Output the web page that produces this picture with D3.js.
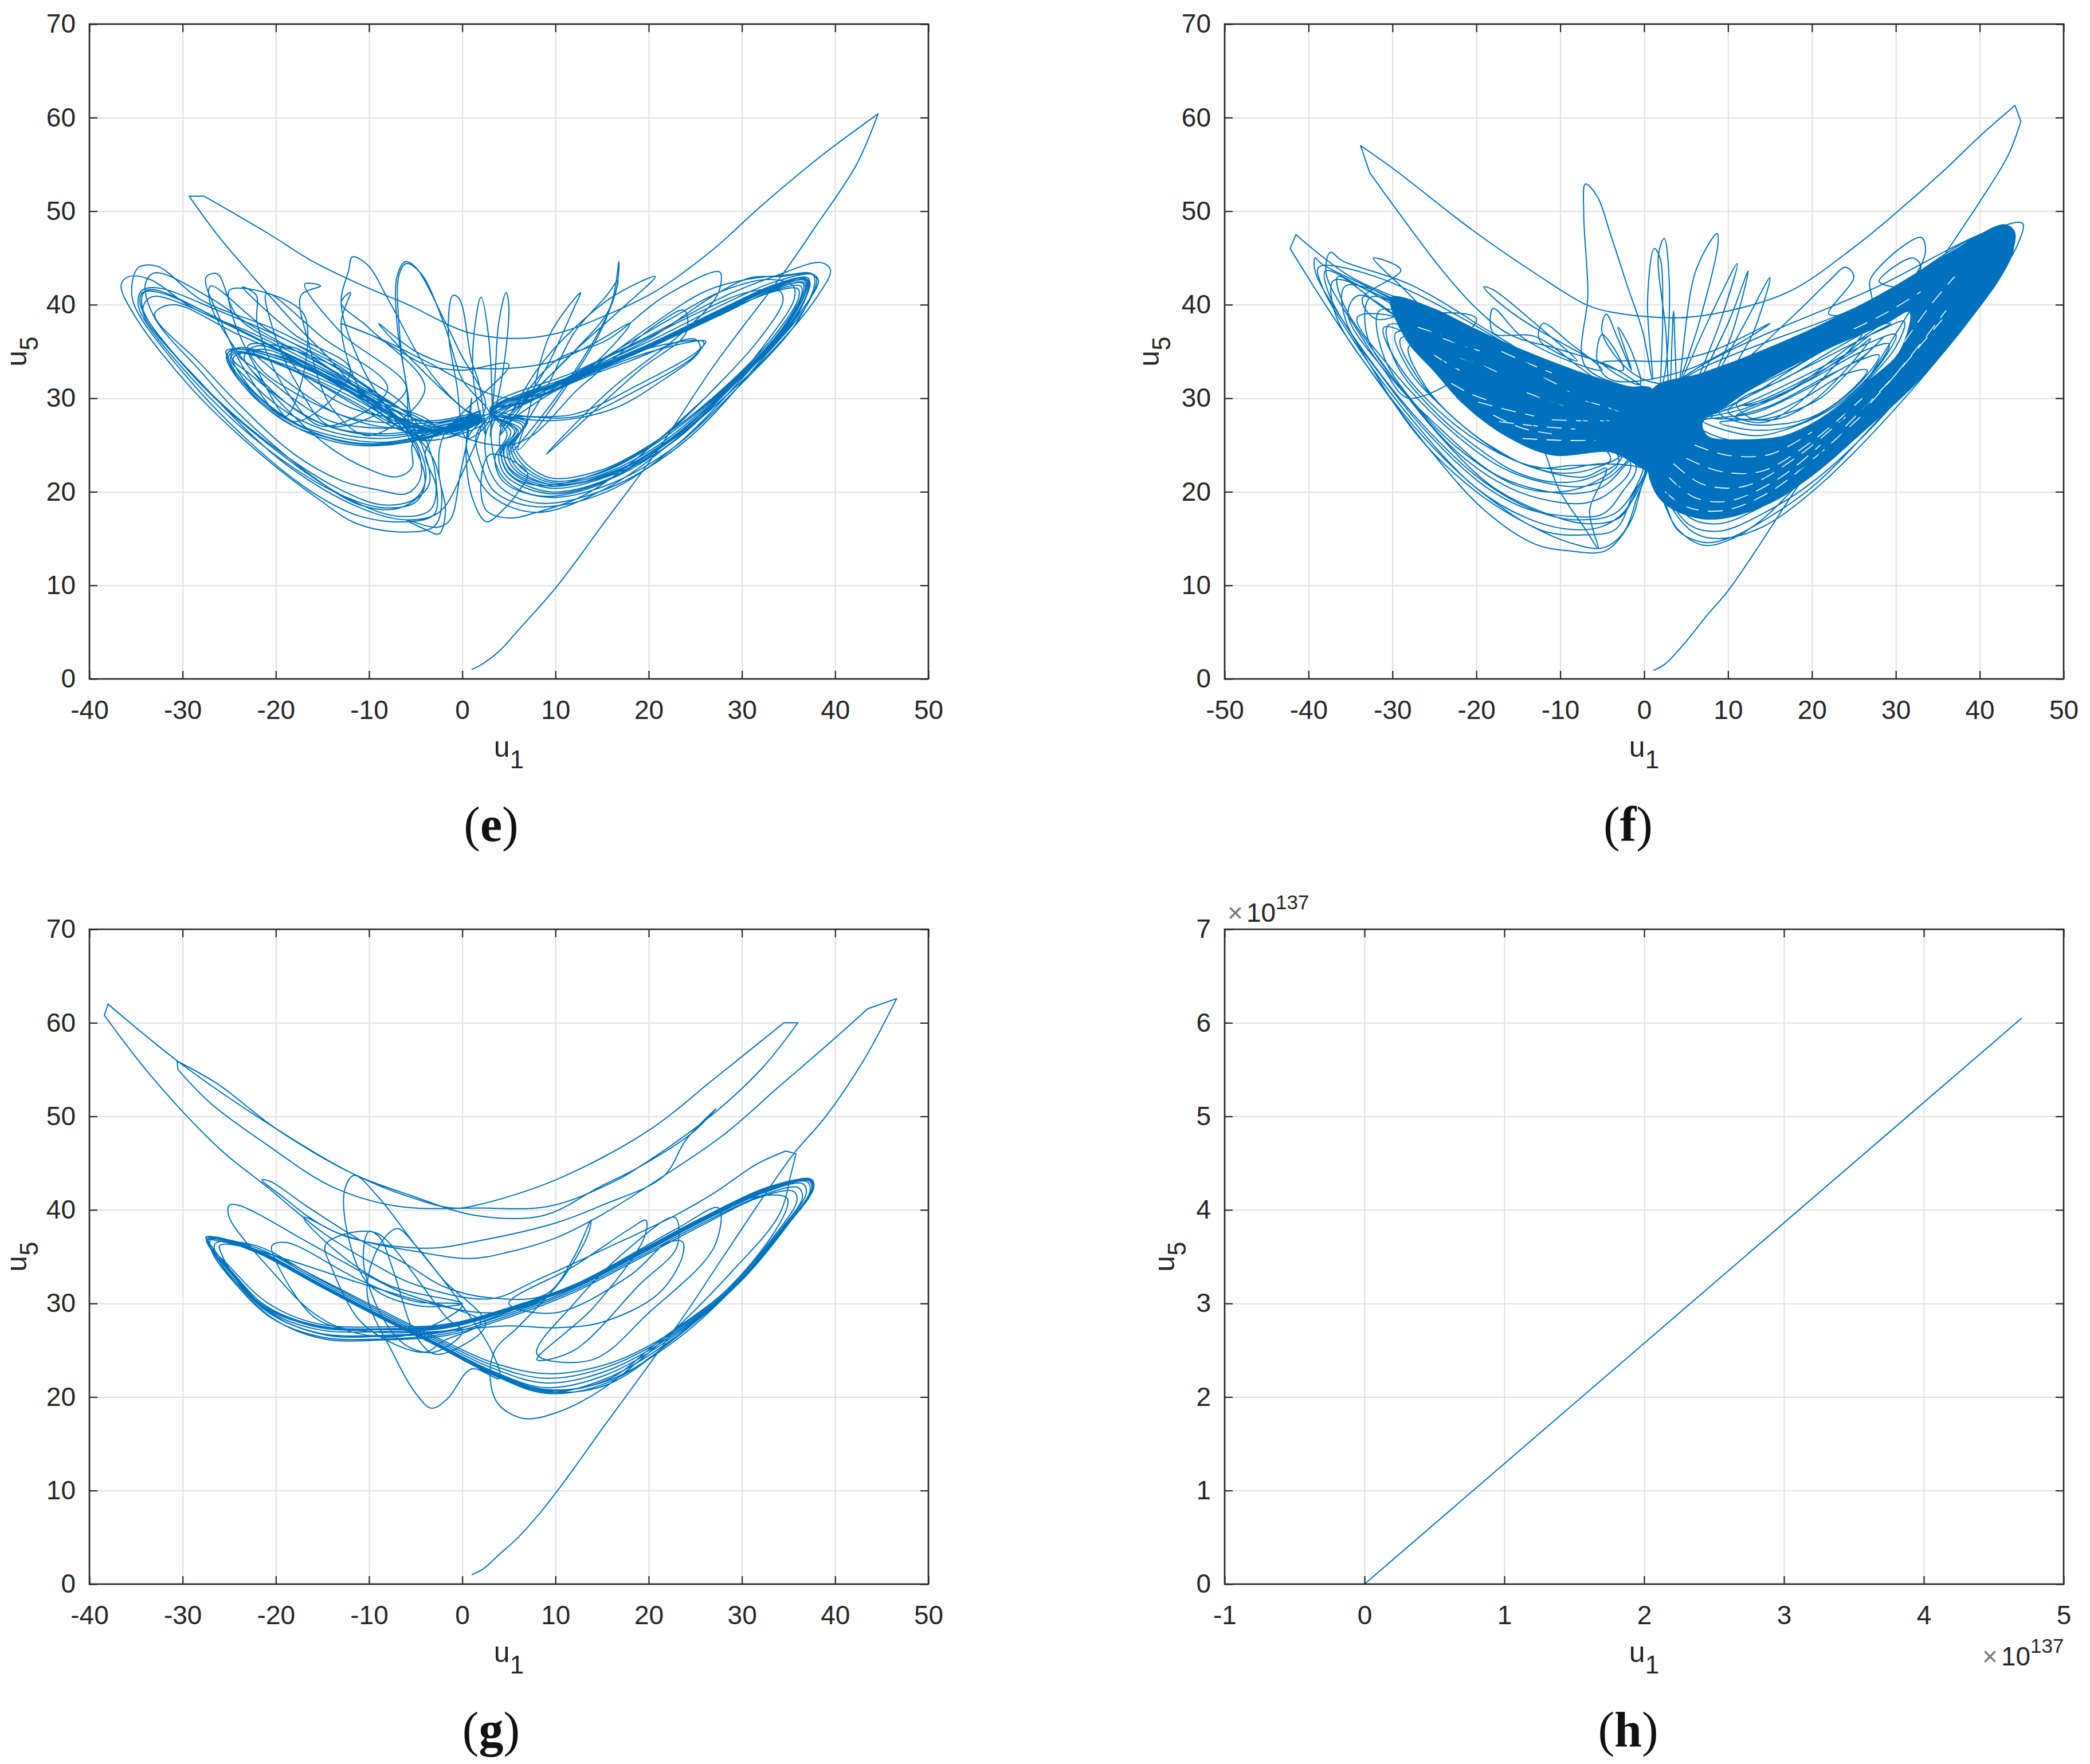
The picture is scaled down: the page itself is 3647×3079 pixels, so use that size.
<!DOCTYPE html>
<html>
<head>
<meta charset="utf-8">
<script src="https://cdnjs.cloudflare.com/ajax/libs/d3/7.8.5/d3.min.js"></script>
<style>
body { margin: 0; background: #fff; }
text { font-family: "Liberation Sans", sans-serif; fill: #262626; }
.cap { font-family: "Liberation Serif", serif; font-size: 86px; fill: #111; }
</style>
</head>
<body>
<script>
"use strict";

// tick labels
const ticksA = [-40, -30, -20, -10, 0, 10, 20, 30, 40, 50];
const ticksB = [-50, -40, -30, -20, -10, 0, 10, 20, 30, 40, 50];
const ticksH = [-1, 0, 1, 2, 3, 4, 5];
const ticksY = [0, 10, 20, 30, 40, 50, 60, 70];
const ticksYH = [0, 1, 2, 3, 4, 5, 6, 7];

// (h) values are in units of 1e137
const traceH = [[0, 0], [4.7, 6.05]];

// (g), u1,u5 pairs
// a point written twice keeps the sharp corner the picture has there
const traceG = [
[1,1],[2.2,1.6],[4,3.2],[6,5],[8,7.2],[10,9.7],[12,12.4],[15,16.6],[20,23.4],[24,29],[28,35],[35.4,45.8],[39,50],[43,55.9],[46.6,62.6],[46.6,62.6],[43.5,61.5],[43.5,61.5],[39,57.5],[34,53.2],[28,48],[21.4,43.5],[15,39.5],[10,37],[5,35.5],[0.8,34.8],[-5.8,35.7],[-10,36.5],[-14,37.8],[-16.7,39.4],[-19,41.2],[-21.5,43.2],[-20.5,43],[-16.7,40.4],[-11,36.8],[-6,34.2],[-2,31.8],[3,30.6],[9,31],[12,35],[13.8,38.9],[13.5,37.4],[10.7,32.6],[6,27.5],[3.5,25],
[3,21.9],[3.9,19.2],[6.6,17.7],[10,18.3],[14.8,20.7],[22,26.5],[29,33.5],[34,39.5],[35.3,44],[35.8,46],[35.8,46],[34.7,46.3],[34.7,46.3],[31.6,44.9],[27,41.8],[23,39.5],[14.8,35.6],[8,32.5],[3,30.5],[-5,32],[-10,34.5],[-15,37.6],[-21,42.5],[-26,46.5],[-33.2,54.1],[-38.4,60.8],[-38.4,60.8],[-38,62],[-38,62],[-30,55.5],[-20,48.7],[-12,44],[-6,41.5],[-1,40.2],[1.5,40.5],[10,43.2],[20,48.5],[27,54],[34.5,60],[34.5,60],[36,60],[36,60],[32.3,55.3],[27.2,50.5],[19.6,45],[16.2,43],[9.4,40.4],[1.8,40.2],[-7,40.4],[-14,42.5],[-21,47],[-27,51.4],[-30.5,55],[-30.5,55],[-30.6,55.9],[-30.6,55.9],[-26.3,53.5],[-20,48.7],[-12,44],[-5.7,41.6],[1.5,39.4],[8.7,39.4],[14.8,42.5],[19,44.6],[24.5,48.1],[27.2,50.8],[27.2,50.8],[24,47.5],[21.6,43.6],[15,40.5],[10,38.6],[1.8,36.7],[-3.7,35.9],[-12,37],[-17,39.2],[-14,36],[-8,32],[0,30],
[-5,29.8],[-10,32],[-12.3,37.4],[-12.6,42.2],[-11.6,43.7],[-9.2,41.6],[-5,36.2],[-0.3,30.2],[3.2,24.8],[4,22],[1,23],[-1.6,19.8],[-3.3,18.8],[-5,20.4],[-7.5,24.8],[-10.2,31],[-9,36],[-7,38],[-5,36.2],[-2,32.5],[2.5,27.8],[0,25.5],[-3,24.6],[-5,26.6],[-7.5,33.8],[-8.8,37],[-10,37.7],[-10.6,34.4],[-8.5,28.4],[-6,25.5],[-3,24.8],[0,27],[-1.6,28.4],[-8.5,37.1],[-10,37.7],[-13,37.3],[-14.7,36.2],[-14,33.8],[-11.2,28.4],[-8,26],[-4,24.8],[-2,26],[2,28],[-7,31.4],[-15.4,35.9],[-24,40.5],[-25,40.5],[-25,39.2],[-20.2,33.2],[-16,29],[-12,27],[-6,26.6],[0,29.8],[-5,30.2],[-11.2,32.6],[-18.8,36.5],[-20.4,36.2],[-20.2,35],[-15.7,28.4],[-10,27],[-3,27],[5,27.6],[10,27.4],[15,28],[21,31],[23.6,35],[23.6,36.6],[22,36.5],[18,33],[10,29],[5,30],[12,34],[18,38],[19.7,38.9],[19.5,37],[14,29.5],[8,24],[12,25],[19,32],[23,36],[22.8,39.2],[18,36],[12,30],[8,24.6],[14,24],[20,29],[27,36],[27.5,40.2],[23,38],[12,32],[3,29],
[-27.4,36.8],[-25,34],[-20.8,30],[-15.4,27.8],[-8.5,27.5],[-1.6,27.8],[5.2,29.6],[12,32],[19,35.6],[25.8,39.2],[33,42.5],[37.3,43.2],[37.6,42.2],[35,38.5],[30,32.5],[23,26.5],[15.5,22],[9,20.5],[3.2,22.5],[-3,25.7],[-8.5,28.4],[-15.4,32],[-22.2,35.6],[-27.4,37.1],
[-27.2,36.2],[-25,33.4],[-20.8,29.2],[-15.4,27.2],[-8.5,27],[-1.6,27.4],[5.2,29.3],[12,31.8],[19,35.4],[25.8,39],[33,42.2],[37,43],[37.3,42],[34.6,38.2],[29.6,32.2],[22.7,26.5],[15.5,22.4],[9,21],[3.2,22.8],[-3,25.9],[-8.5,28.6],[-15.4,32.2],[-22.2,35.8],[-27.2,37],
[-26.9,35.8],[-24.8,32.9],[-20.6,28.9],[-15.2,26.8],[-8.5,26.6],[-1.6,27.1],[5.2,29],[12,31.6],[19,35.2],[25.8,38.8],[32.5,41.9],[36.5,42.8],[36.9,41.8],[34.3,38],[29.3,32],[22.4,26.5],[15.5,22.8],[9,21.5],[3.2,23.1],[-3,26.1],[-8.5,28.8],[-15.4,32.4],[-22.2,36],[-27,36.8],
[-26.8,35.4],[-24.6,32.4],[-20.4,28.4],[-15,26.4],[-8.5,26.2],[-1.6,26.8],[5.2,28.8],[12,31.4],[19,35],[25.8,38.6],[32,41.5],[36,42.4],[36.5,41.4],[34,37.7],[29,31.8],[22.1,26.5],[15.5,23.2],[9,22],[3.2,23.4],[-3,26.3],[-8.5,29],[-15.4,32.6],[-22.2,36.2],[-26.5,36.4],
[-26.3,35],[-24.2,32],[-20,28.2],[-14.8,26.2],[-8.5,26.1],[-1.6,26.6],[5.2,28.6],[12,31.2],[19,34.8],[25.8,38.4],[31.5,41.2],[35.5,42],[35.9,41],[33.6,37.4],[28.6,31.6],[21.8,26.5],[15.5,23.5],[9,22.5],[3.2,23.7],[-3,26.5],[-8.5,29.2],[-15.4,32.7],[-21,35.4],[-26,36.2],
[-25.7,35],[-23.5,31.6],[-20,28.6],[-14.5,26.6],[-8.5,26.5],[-1.6,27],[5.2,29.2],[12,31.9],[19,35.5],[25.8,39.1],[32,41.5],[34.8,41.3],[34.9,40.5],[33.2,37.2],[28.2,31.3],[21.5,26.3],[15.5,21.8],[9,20.7],[3.2,22.6],[-3,25.8],[-8.5,28.5],[-15.4,32.1],[-22.2,35.7],[-27.2,37],
[-27.4,36.6],[-25.2,33.8],[-21,29.7],[-15.4,27.6],[-8.5,27.3],[-1.6,27.7],[5.2,29.5],[12,32],[19,35.6],[25.8,39.2],[33,42.4],[37.4,43.3],[37.7,42.4],[35.2,38.8],[30,32.7],[23,26.4],[15.5,21.5],[9,20.4],[3.2,22.4],[-3,25.6],[-8.5,28.3],[-15.4,31.9],[-22.2,35.5],[-27.5,37.1],[-27.1,36.4],[-24.8,33.5],[-20.8,29.5],[-15.2,27.4],[-8.5,27.2],[-1.6,27.6],[5.2,29.4],[12,31.9],[19,35.5],[25.8,39.1],[33,42.3],[37.2,43.1],[37.5,42.3],[35,38.6],[29.8,32.6],[22.9,26.4],[15.5,21.3],[9,20.6],[3.2,22.5],[-3,25.7],[-8.5,28.4],[-15.4,32],[-22.2,35.6],[-27.2,37],
[-27.3,36.5],[-25.1,33.6],[-20.9,29.4],[-15.3,27.5],[-8.5,27.2],[-1.6,27.5],[5.2,29.4],[12,31.7],[19,35.3],[25.8,38.9],[33,42.3],[37.4,43.2],[37.6,42.5],[35.1,38.7],[30.2,32.8],[23.2,26.3],[15.5,21.7],[9,20.8],[3.2,22.7],[-3,25.8],[-8.5,28.5],[-15.4,32.1],[-22.2,35.7],[-27.3,36.9]
];

// (e)
const traceE = [
[1,1],[2,1.5],[4,3],[6,5.2],[8,7.4],[10,9.7],[12,12.3],[15,16.4],[21,24.5],[27,33.5],[34.4,43.3],[38,48.5],[42.3,55],[44.6,60.4],[44.6,60.4],[38.5,55.9],[32,50.5],[26.9,45.9],[21,41.6],[16.2,39.2],[10,36.9],[5.2,36.4],[0.4,37.1],[-5.8,40],[-10.6,42],[-16,44.6],[-20.8,47.6],[-27.7,51.6],[-27.7,51.6],[-29.3,51.6],[-29.3,51.6],[-26.3,47.5],[-22.2,42.7],[-18,38],[-15,35],[-10,30],[-4,27.5],
[-8.5,29.8],[-14,32.7],[-22.2,36.8],[-29,39.7],[-33.5,42.7],[-35.8,43],[-36.6,42.1],[-35,38.6],[-29,31],[-22.2,24.5],[-15.4,19.2],[-11.3,16.6],[-6.5,15.7],[-3,16.3],[-2.2,19],[-3,23.3],[-5,26.3],[-6,29],[-12,33],[-20,37.3],[-28,40.5],[-32.7,44.1],[-34.7,44],[-35.4,42.4],[-35.2,40],[-30,32.8],[-23,25.5],[-16,19.9],[-11,17.4],[-6,16.8],[-3,17.6],[-2.8,21],[-3.5,24.5],[-5,27.5],[-10,31],[-18,35.8],[-26,39.3],[-32.7,41.8],[-34.4,41.5],[-34.7,39.7],[-29,32.1],[-20.8,24.5],[-13.3,19.8],[-8.5,18.3],[-5,18.9],[-4,21],[-5,24.5],
[-8,28.5],[-15,32.7],[-24,37.4],[-32.5,41.3],[-34.3,41.3],[-34.5,39.9],[-28.9,32.5],[-20.5,25],[-13,20.2],[-8.5,18.6],[-5,19.3],[-3.9,21.5],[-4.8,25],[-8,28.8],[-16,33.2],[-25,37.9],[-33,41.6],[-34.1,41.4],[-34.3,39.6],[-28.7,32.2],[-20.2,24.6],[-12.5,19.4],[-7,17.4],[-3.5,18],[-2.8,20.5],[-4,24],[-3,27],[-12,30.7],[-22,36.3],[-33,40.9],[-34,40.3],[-34.2,39],[-28,31.6],[-19,23],[-11,18.3],[-6,17],[-2.5,17.8],[0,22],
[2,28],[-3,26],[-8.5,25],[-14,25.7],[-18.8,27.4],[-23.6,31.5],[-25.3,34.5],[-24.5,35.2],[-18.8,33.9],[-12,31],[-5.8,27.4],[-1,26.6],[2,27.8],
[-3,26.3],[-8.5,25.3],[-14,26],[-18.8,27.8],[-23.5,31.8],[-25.1,34.4],[-24.3,35],[-18.8,33.5],[-12,30.6],[-5.8,27.2],[-1,26.7],[2,27.9],
[-3,26.6],[-8.5,25.7],[-14,26.4],[-18.5,28.3],[-23.2,32.2],[-24.9,34.3],[-24,34.9],[-18.5,33.2],[-12,30.2],[-5.8,27],[-1,26.8],[2,28],
[-3,26.9],[-8.5,26.2],[-14,26.9],[-18,28.9],[-22.8,32.6],[-24.6,34.2],[-23.8,34.8],[-18,32.9],[-12,29.8],[-5.8,26.7],[-1,26.9],[2,28.2],
[-3,27.2],[-8.5,26.8],[-14,27.5],[-17.5,29.5],[-22,33],[-24,34.6],[-23,34.9],[-17,32.4],[-11,29],[-5.8,26.4],[-1,27],[2,28.3],
[-3,27.4],[-8.5,27.4],[-13,28.2],[-17,30.5],[-21,33.6],[-22.4,35],[-21,35.2],[-15,32.4],[-9,28.6],[-5,26],[-1,27.2],[2,28.5],
[-3,27.6],[-8,28],[-12,29],[-15.5,31],[-18.5,34],[-19.5,35.5],[-18,35.4],[-12,31.6],[-7,27.8],[-4,25.8],[-1,27.4],[2,28.7],
[-3,26.4],[-7,25.3],[-12,25.3],[-17,26.8],[-22,30],[-25,34],[-25.3,35.1],[-20,34.6],[-13,31.6],[-6,27.6],[-1,26.4],[2,27.6],
[-3,26.1],[-8,25],[-13,25.2],[-18,27],[-23,30.8],[-25.2,34.6],[-24.7,35.2],[-19,34],[-12,30.8],[-6,27.2],[-1,26.2],[2,27.5],
[-3,25.9],[-8,25.1],[-13,25.4],[-18,27.4],[-22.8,31.2],[-24.8,34.8],[-24,35.4],[-17,33.4],[-10,29.6],[-5,26.9],[-1,26.5],[2,27.7],
[-3,26.7],[-8,26],[-13,26.6],[-17,28.2],[-21,31.4],[-23.4,34.4],[-22,35.6],[-15,33],[-8,29.2],[-4,26.6],[-1,26.5],[2,28],
[-3,27],[-9,27],[-14,28.6],[-18,30.6],[-21.5,33],[-23,35.6],[-21,35.8],[-14,33.6],[-8,29.8],[-3,26.9],[2,28.2],
[-4,27.5],[-15,33.5],[-23,38],[-27,40.7],[-33,43.4],[-34,42.2],[-33,38.6],[-28,32.8],[-24,28.4],[-16,21.6],[-11,18.6],[-7,18.2],[-4.5,19.6],[-3.5,21],[-4,24],[-5,26],
[-14,32.4],[-24,36.8],[-31,40],[-33,39],[-28,33.6],[-24,29.4],[-18,24],[-13,21.2],[-9,20.2],[-6,19.8],[-4.5,21.4],[-5,25],
[-12,32.6],[-21,37.4],[-27,42],[-27,40],[-24,34.8],[-19,29],[-14,24.6],[-10,22.4],[-7,21.6],[-5.4,22.6],[-5.2,25.4],
[2,28],
[12,32.1],[20.3,35.6],[27.9,39.2],[33.4,41.8],[37,42.7],[37.2,42],[35.4,38],[29.2,31.5],[22.3,25.1],[15.5,21.6],[9.4,20.4],[5.2,22.2],[4.5,24.5],[6,26.5],[3,28.4],
[12,32.3],[20.3,35.9],[27.9,39.5],[33.4,42],[36.8,42.8],[37,42],[35,38],[28.8,31.4],[22,25.2],[15.5,21.3],[9.4,20],[5,21.9],[4.2,24.3],[5.6,26.5],[3,28.6],
[12,32],[20.3,35.5],[27.9,39],[33.4,41.6],[36.6,42.4],[36.8,41.6],[34.8,37.8],[28.6,31.2],[21.8,25.3],[15.5,21.8],[9.4,20.8],[5.6,22.4],[4.8,24.6],[6.3,26.6],[3,28.5],
[12,32.2],[20.3,35.7],[27.9,39.3],[33.4,41.9],[36.9,42.6],[37.1,41.8],[35.2,37.9],[29,31.3],[22.1,25],[15.5,21.2],[9.4,19.8],[4.8,21.6],[3.9,24],[5.2,26.4],[3,28.7],
[12,32.2],[20.3,35.7],[27.9,39.4],[33.4,41.9],[36.7,42.6],[36.9,41.7],[34.6,37.4],[28,30.6],[21,24.6],[14.5,21.4],[9.4,20.8],[5.8,22.6],[5,24.8],[6.5,27],[3,28.6],
[12,32],[20.3,35.8],[27.9,39.3],[33.4,41.7],[36.5,42.3],[36.6,41.4],[34.2,37.1],[27.6,30.4],[20.6,24.7],[14.5,21.7],[9.4,21],[6,22.9],[5.2,25],[6.7,27.2],[3,28.5],
[12,32.3],[20.3,35.6],[27.9,39.1],[33.4,41.5],[36.3,42],[36.4,41.1],[33.8,36.8],[27.2,30.2],[20.2,24.8],[14.5,21.9],[9.4,21.2],[6.2,23.2],[5.4,25.2],[6.9,27.4],[3,28.4],
[12,32.1],[20.3,35.8],[27.9,39.2],[33.4,41.4],[36,41.7],[36.1,40.8],[33.4,36.6],[26.8,30],[19.8,24.8],[14.5,22.2],[9.4,21.5],[6.4,23.5],[5.6,25.4],[7,27.6],[3,28.3],
[12,32.4],[20.3,35.9],[27.9,39.6],[33.4,42.1],[37,42.9],[37.3,42.2],[35.6,38.6],[29.4,31.8],[22.6,25.6],[15.5,21.9],[9.4,20.6],[5.2,22.4],[4.4,24.6],[5.8,26.6],[3,28.6],
[12,32.5],[20.3,36.2],[27.9,40],[33.4,42.4],[37.6,43.2],[37.8,42.2],[35.8,38],[29.6,31.2],[22.5,24.6],[15.5,20.7],[9.4,19.4],[4.5,21],[3.5,23.6],[4.8,26.2],[3,28.9],
[12,32.8],[20.3,36.8],[27.9,40.8],[33.4,43],[38.5,44.5],[39.5,43.7],[38.1,40.9],[32.7,34.5],[23,25.7],[15.5,20.4],[8,17.8],[3.2,19.5],[1.1,22.7],[0.5,25.5],[3,28.2],
[12,32.4],[20.3,36.5],[27,41],[31,42.9],[34,43],[37.5,43.3],[38.2,42.6],[36.5,39.5],[31,33.2],[23,25],[15.5,20],[8,18.4],[3.5,20],[2,23],[1.5,26],[3,28],
[10,31],[15,34],[20,37.6],[26,41.4],[30.5,42.7],[35,43.2],[37.3,43.4],[38,42.8],[37,40],[32,34],[24,25.5],[15.5,20.3],[8,18.8],[4,20.6],[2.5,24],[3,27.3],
[8,30],[14,33.6],[22,38.3],[28,41.5],[33,42.7],[35.5,42],[35.6,40.6],[33,36.5],[27.5,30],[21,24.7],[14,20.5],[8,19.6],[4.5,21.4],[3.2,24.8],[3.5,27.6],
[12,32.6],[19,36],[25,39],[30.5,41.3],[34,41.5],[34.4,40.4],[32,36.5],[27,31],[21,25.5],[14,21.8],[8,20.7],[5,22],[4,25],[4.5,27.8],
[5.2,28],[12,28.3],[19,31.5],[25.2,35],[26.1,36.1],[20.3,35],[13,32.3],[7,29.6],[3,28.8],[12,28],[19,31],[25,34.6],[25.9,36],[21,35.6],[14,33],[8,30],[3,28.7],[9,27.6],[16,28.8],[21,31.6],[25.5,35.2],[25,36.3],[18,34],[10,30.8],
[4,27],[12,35],[15.8,39.6],[16.8,44.6],[16.5,41.5],[14.8,37.4],[10,30],[5,24],[9,31],[12,37],[15.5,41],[16.7,42.6],[15,37.5],[11,31],[6,24.5],[7,28],[9.4,36.8],[12.7,41.3],[12,39.7],[8.7,32.7],[4,26],[8,33],[11,36.5],[16.2,40.9],[20.7,43],[17,39.5],[12,35],[5,28],[10,34],[15.5,36.2],[21.7,40.9],[27.6,43.5],[27.7,42],[26.9,40.3],[23,36.5],[16,31],[9,24],[19,33],[24,37],[23.8,39.4],[21,38],[13,31.5],[5,25],
[-16.7,34.5],[-24,38.6],[-26.3,43.3],[-27.5,42.9],[-26,38.5],[-23,32.5],[-19,28],[-17,39],[-24.9,41.6],[-24.7,39],[-22,33],[-18,27.5],[-12,33],[-18,36.8],[-23.6,41.9],[-22.1,41],[-22,38],[-19,31],[-15,27],[-8,31],[-15,36.5],[-21,41.2],[-20.5,38],[-18,32],[-14,27],[-6,31],[-13,37],[-16.9,42.2],[-15.2,42],[-17.3,41],[-16.5,36],[-14,29],[-10,26],[-4,31],[-10,37.5],[-13,40.2],[-12,41.3],[-13,38],[-11,31],[-7,27],
[-3.5,25.5],[-8,29],[-11.5,35],[-13,40.3],[-12.2,43.6],[-11.8,45.1],[-10.2,44.3],[-7.8,40.3],[-4,33.5],[0,29],[2.5,27.5],[-5,25.7],[-6,31.5],[-7,38],[-7,43],[-6.1,44.6],[-5,44],[-2,38.5],[-0.3,35],[2.5,29.2],[1,27],[-4.4,25.7],[-6,31.5],[-6.8,38],[-6.8,43.1],[-6,44.4],[-4.4,43.3],[-1.8,37.5],[0,32],[3,28],[0.5,25.7],[-0.6,31.5],[-1.5,37.4],[-1,41],[-0.3,40.6],[1,34],[1.8,31.5],[2.5,26],[1.2,32],[1.2,36.2],[2,40.8],[2.8,36.8],[3.2,28.6],[3,26],[3.5,32],[3.9,38],[4.7,41.3],[5,39.7],[3.9,30.4],[2.8,27.4],
[-9,38],[-5,35],[-1,33.5],[5,33.2],[10,34],[14,35.8],[18,38],[12,32],[5,30],[-4,34],[-8,36],[-13,38],[-9,36.4],[-4,33.6],[0,33],[5,33.6],
[-2,26],[-2.5,22],[-1.8,18],[-2.5,15.5],[-4,16],[-6,17],[-2.7,16.2],[-1.3,17],[-0.2,22],[0.6,26],[1,30],[0.4,24],[1.2,19],[2.6,16.8],[4.5,18.2],[6,20],[7,22],[3,24],[2,21],[2.6,18],[5,17.2],[8,17.8],[13,19.6],[18,23],[26,30]
];

// (f) solid parts of the trace, where the lines run together
const coreLeftF = [[-30.2,40.8],[-25,39.6],[-20.5,37.6],[-14.5,35.2],[-7.5,32.8],[-1.9,31.3],[1,31],[2,26],[1.5,22.5],[0.3,22.3],[-1.2,23],[-4,24.2],[-11,23.9],[-16.6,26],[-21.5,29.3],[-25,32.8],[-28.5,36.4]];
const coreRightF = [[1,31],[6.8,32.7],[13.7,35],[21.3,38],[28.9,41.5],[36.5,45.6],[40.3,47.7],[43,48.6],[44.2,47.8],[43.4,44.4],[38.8,38.3],[32.7,31.8],[27.4,27.4],[21.3,22.7],[16,19.2],[9.9,17.2],[6.1,17.2],[2.3,18.8],[0.6,21.5],[0.5,26]];
const holeRightF = [[7,27.4],[9.9,29.2],[13.7,31.5],[21.3,35],[28.9,38],[31.6,39.2],[30.4,35],[26.6,31.8],[22.1,28.4],[17.5,26.2],[11.4,25.6],[7.6,26]];

// (f) thin white slits between the lines inside the solid parts
const gapsF = [
[[-21.9,34.3],[-19,33.4],[-16.6,32.4]],[[-19.8,29.6],[-16.5,28.8],[-13.1,28.1]],[[-17.3,27.5],[-12.5,27],[-8.2,26.7]],[[-14.5,25.7],[-10,25.5],[-5.8,25.5]],[[-12,32.2],[-10.4,31.5],[-8.9,30.7]],
[[-23,31.6],[-20.5,30.4],[-18,29.6]],[[-25,34.6],[-23.6,33.8],[-22,33]],[[-14,30.6],[-11,29.6],[-8,28.6]],[[-17,35],[-14,33.8],[-11,32.7]],[[-24,36.4],[-21.5,35.6],[-19,34.9]],
[[-11,27.7],[-8,27.6],[-4,27.6]],[[-18,28.2],[-14.5,26.8],[-11,26.2]],[[-7,29.7],[-5,29.2],[-3,28.6]],[[-27,37.6],[-25.6,37.2],[-24.2,36.8]],
[[3,21.5],[6,19.4],[10,19],[16,21.4],[21,25]],[[3.5,23],[7,20.8],[12,20.6],[18,23.6],[24,28]],[[5,23.6],[9,22.2],[14,22.2],[20,25.4],[26,30]],[[2.5,20],[5,18.4],[9.5,18],[15,20],[20,23.4],[26,28.2]],
[[6,25],[10,23.9],[15,24],[20,26.4]],[[27,29.5],[31,33.6],[35.5,38.4]],[[24,27],[30,32.6],[36,39.4]],[[31,36],[34,39.8],[37,43]],[[25,37.4],[29,39.2],[33,41.4]]
];

// (f) the lines that still show one by one
const traceF = [
[1.1,0.9],[2.5,1.6],[5,4],[7.5,6.8],[9.9,9.3],[13,13.3],[17.5,19.5],[22,25.5],[28,34],[35.8,45.3],[40,51],[43.4,56],[44.9,59.6],[44.9,59.6],[44.2,61.3],[44.2,61.3],[40,58],[35.8,54.4],[30,49.8],[25.1,46.2],[17.5,41.5],[9.9,39.3],[3.8,38.6],[-3.8,39.2],[-6.9,40],[-12.9,43.3],[-20.5,48],[-29.7,54.4],[-33.8,57],[-33.8,57],[-32.7,54.1],[-32.7,54.1],[-28.9,49.4],[-24,43.6],[-20,39.6],[-16,36.8],[-10,35.2],[-4,33.4],[0,31],
[-7,33.4],[-6.7,41.3],[-7.2,49.7],[-7,52.9],[-5.6,51.6],[-4,47.5],[-2,42],[-0.2,37.2],[1,32],[0.4,40.2],[1.2,46],[1.9,45],[2.2,38],[2,31],[2.6,33.4],[3,42.3],[2.4,47.1],[1.7,45.3],[2.6,37],[3,30],[3.5,39.3],[3.7,35],[4,31],[6.1,43.5],[8.7,47.6],[8.8,46.5],[6.5,37.9],[4.4,32],[8,39],[11.1,44.4],[9,38],[6,31],[10,38],[12.4,43.6],[10.5,37],[8,31.5],[12,38],[15,42.9],[13,37],[11,33.5],[18,39],[22,42.5],[24,44],[25,43],[22,39],[27,40],[27,42.8],[33,47.2],[33.5,45.5],[31,42],[28,42.5],[32,45],[33,44],[29,41],
[15,33],[0,32],[-5,37],[-4.5,39],[-3.2,36.5],[-1.5,33],[-3.1,37.6],[-1.5,35],[-0.5,31.5],[-5,33.8],[-3,34],[3,34],[8,35],[15,38],[5,33],[-4,32],[-5.6,34],[-5,36.8],[-2.5,33],
[-12,37],[-17,40],[-19.1,41.9],[-18,41.6],[-13,38],[-8,34],[-12.3,36],[-12.6,37],[-12,38],[-9,36],[-5,33],[-9,34],[-14.5,36.5],[-18,39.6],[-18,37],[-13,36.6],[-8,33.5],
[-3,30],[-24,38],[-29,42],[-32.3,45],[-29,43.7],[-33.6,40.6],[-32,38.5],[-28,39],[-20,38.5],[-24,34],[-12,33],[-20,38],[-28,42.2],[-36,44.7],[-37.4,45.6],[-37.9,43.3],[-34,37],[-31,33],[-28,30],[-20,34.5],[-30,40.5],[-38.5,44.4],[-39.2,45],[-39.2,43.5],[-35,37],[-27,26],[-20,20],[-14,16.6],[-9,14.6],[-5,14],[-2.5,15.6],[-1,19],[0,23.5],
[-20,37],[-35,43],[-41.5,47.5],[-41.5,47.5],[-42.2,46],[-42.2,46],[-38,40],[-33,33.4],[-26,25],[-19,18],[-13,14.4],[-9.1,13.7],[-4.6,13.7],[-1.8,16.5],[-0.5,20],[0.5,25],
[-15,35],[-32,43],[-38.8,44],[-38.4,42],[-34,35.3],[-27,27],[-20,20.4],[-14,17.2],[-9,16],[-5,16.3],[-2,18.3],[0,24],
[-20,36],[-33,41.6],[-38,43.6],[-37.5,41],[-33,34.5],[-26,26.8],[-19,21],[-13,18],[-8,17],[-3,18],[0,25],
[-12,30],[-30,39],[-36.5,43],[-36,40.4],[-31,33.5],[-24,25.6],[-18,20.5],[-12,17.8],[-7,16.6],[-3,17.2],[-1,20],[0.8,26],
[-25,36],[-34,41],[-35.3,39],[-30,32],[-24,26.5],[-18,22],[-13,20.3],[-8.2,19.8],[-5,20.5],[-2.6,22.5],[0,26],
[-14,32],[-30,38.8],[-34.2,38.6],[-30,33],[-23,26.5],[-17,22.6],[-12,21],[-7,20.6],[-3.5,22],[0,27],
[-14,30],[-31,37.6],[-29,33.2],[-23,27.5],[-17,24],[-11,22],[-7,21.6],[-4.5,22.5],[-6.5,18],[-5.5,14],[-7,16],[-10,20],[-14,28],
[-30,40],[-37,42.6],[-36.8,39],[-32,32.2],[-25,24.6],[-18,19],[-12,15.8],[-7,15.4],[-3.4,16],[-1.4,19.6],[0.6,24],
[-24,38],[-35.6,42],[-35.6,38.4],[-31,32],[-25,25.5],[-19,20.6],[-14,18.2],[-9,17.4],[-5,17.6],[-2.6,20],[-1,23],
[-24,37],[-32.6,40.8],[-33,36.6],[-28,30],[-22,24],[-16,20.4],[-11,19],[-7,18.8],[-4,20],[-1.6,23],
[-20,35],[-31.5,39.4],[-31,34.4],[-26,28],[-21,23.8],[-15,20.6],[-10,20],[-6,21],[-3,23.4],
[-15,32],[-30.5,37.8],[-29.5,33.6],[-25,28.6],[-20,24.8],[-15,22],[-10,21],[-5.6,21.8],[-2.6,24],
[-16,33],[-29.6,37],[-28,33],[-24,29],[-19.5,25.6],[-14.5,23],[-10,22],[-6,22.5],[-2.5,24.4],[-15,32.6],[-29,36.4],[-27,32.2],[-22.6,27.8],[-17.6,24.5],[-13,22.6],[-9,22.8],[-4,23.4],[-14,31],[-28,35.6],[-26,31.2],[-21,26.6],[-15,23.2],[-10,22.4],[-5,23],
[1,22],[2.5,18.5],[4,16],[7,14.3],[10,14.8],[14,17],[20,22.5],[28,31],[36,41.5],[42,48],[44.9,48.8],[45.2,48.5],[44,45.5],[37,37],[28,27.8],[20,20.5],[14,16.8],[10,15],[7,14.6],[4,15.9],[2.6,18.6],[1,22.4],
[2,30],[28,42],[43,48],[44,46],[37,36.5],[28,27],[20,20],[14,16.2],[9,15],[6,15.6],[3.5,18],[1.5,22.6],[2,30],[26,40],[42.5,47.8],[43.5,45.8],[36,36.3],[27.5,27.2],[20,21],[14,17.6],[9,15.8],[5.5,16.4],[3.2,19],[1.8,23],[2,29],[26,39.6],[41,47.4],[43,45],[35.5,36.6],[27,27.4],[19.5,21.4],[14,18.4],[9,16.6],[5.5,17.2],[3.2,20],[1.8,24],[2,29.6],[22,36.5],[40,46.6],[42.3,45.2],[35,36.8],[26.5,27.6],[19,22],[14,19.2],[9,17.5],[5.5,18],[3.2,20.8],[2,25],[3,29],[22,36],[39,45.8],[41.5,44.4],[34.5,36.6],[26,27.6],[18.5,22.4],[13,19.8],[8.5,18.4],[5.5,19],[3.5,21.6],[2.3,26],
[5,27],[12,30],[20,33.6],[28,37.2],[31,38.2],[30,35.5],[25,30.4],[20,26.6],[14,24.8],[8,25.2],[5,27],[12,29.4],[20,32.8],[27,36],[30,36.8],[28.4,34],[24,29.8],[19,26.8],[14,25.4],[9,25.8],[6,27.4],[12,28.9],[19,31.6],[26,35],[29.2,35.8],[27.4,33],[23,29.3],[18,27],[13.6,26],[10,26.5],[7,27.6],
[13,28.4],[19,30.8],[25,33.8],[28,34.6],[26,31.9],[22,28.9],[17.6,27],[13,26.6],[9,27.4],[14,28],[19,30],[24,32.6],[26.6,33],[24,30.3],[20,28],[16,27.2],[12,27.3],[9,28.4],[14,29.8],[20,32.4],[25,35],[27,36.4],[24,33],[20,29.6],[16,27.8],[11,27.8],[8,28],[12,30.6],[18,33.4],[24,36.6],[26,37],[22,32.8],[18,29.2],[14,27.4],[10,28.6],[14,31],[20,34.4],[27,37.6],[29.4,38],
[27,36.8],[23,34],[17,30.6],[11,28.2],[15,29.2],[21,32],[26,34.4],[28.6,36.6],[25,33.4],[21,30],[17,28.4],[13,27.8],[11,29.4],[17,32.2],[23,35.4],[28,37.8],[24,35.2],[19,31.8],[15,29.8],[12,29.2]
];

const panels = [
    { left: 156,  top: 42,   xTicks: ticksA, yTicks: ticksY,  xDomain: [-40, 50], yDomain: [0, 70], trace: traceE, cores: [], gaps: [],
      yLabelX: 31, cap: "e", capX: 857 },
    { left: 2137, top: 42,   xTicks: ticksB, yTicks: ticksY,  xDomain: [-50, 50], yDomain: [0, 70], trace: traceF,
      cores: [[coreLeftF], [coreRightF, holeRightF]], gaps: gapsF, yLabelX: 2007, cap: "f", capX: 2841 },
    { left: 156,  top: 1622, xTicks: ticksA, yTicks: ticksY,  xDomain: [-40, 50], yDomain: [0, 70], trace: traceG, cores: [], gaps: [],
      yLabelX: 31, cap: "g", capX: 857 },
    { left: 2137, top: 1622, xTicks: ticksH, yTicks: ticksYH, xDomain: [-1, 5],   yDomain: [0, 7],  trace: traceH, cores: [], gaps: [],
      yLabelX: 2034, cap: "h", capX: 2841, exponent: true }
];

const plotW = 1464, plotH = 1143;
const axisColor = "#262626", gridColor = "#dfdfdf", lineColor = "#0072bd";

const svg = d3.select("body").append("svg")
    .attr("width", 3647)
    .attr("height", 3079);

panels.forEach(drawPanel);

function styleAxis(g) {
    g.selectAll(".tick line").attr("stroke", axisColor).attr("stroke-width", 2.2);
    g.selectAll(".tick text").attr("font-size", 46).attr("fill", axisColor)
        .style("font-family", "'Liberation Sans', sans-serif");
    g.select(".domain").remove();
}

function powerLabel(x, y) {
    // "×10" with the exponent set by hand, same as the picture
    let t = svg.append("text").attr("x", x).attr("y", y).attr("font-size", 46);
    t.append("tspan").style("fill", "#777").text("×");
    t.append("tspan").attr("dx", 6).text("10");
    t.append("tspan").attr("dy", -22).attr("font-size", 35).text("137");
}

function drawPanel(p) {
    let x = d3.scaleLinear().domain(p.xDomain).range([0, plotW]);
    let y = d3.scaleLinear().domain(p.yDomain).range([plotH, 0]);

    let g = svg.append("g").attr("transform", "translate(" + p.left + "," + p.top + ")");

    // grid first so the trace sits on it
    g.append("g").attr("transform", "translate(0," + plotH + ")")
        .call(d3.axisBottom(x).tickValues(p.xTicks).tickSize(-plotH).tickFormat(""))
        .call(a => a.select(".domain").remove())
        .selectAll(".tick line").attr("stroke", gridColor).attr("stroke-width", 2);
    g.append("g")
        .call(d3.axisLeft(y).tickValues(p.yTicks).tickSize(-plotW).tickFormat(""))
        .call(a => a.select(".domain").remove())
        .selectAll(".tick line").attr("stroke", gridColor).attr("stroke-width", 2);

    let line = d3.line()
        .x(d => x(d[0]))
        .y(d => y(d[1]))
        .curve(d3.curveCatmullRom.alpha(0.5));
    let ring = d3.line()
        .x(d => x(d[0]))
        .y(d => y(d[1]))
        .curve(d3.curveCatmullRomClosed.alpha(0.5));

    p.cores.forEach(rings => {
        g.append("path")
            .attr("d", rings.map(r => ring(r)).join(""))
            .attr("fill", lineColor)
            .attr("fill-rule", "evenodd");
    });

    g.selectAll(".gap").data(p.gaps).enter().append("path")
        .attr("class", "gap")
        .attr("d", line)
        .attr("fill", "none")
        .attr("stroke", "#fff")
        .attr("stroke-width", 1.6)
        .attr("stroke-dasharray", "26 16");

    g.append("path").datum(p.trace)
        .attr("d", line)
        .attr("fill", "none")
        .attr("stroke", lineColor)
        .attr("stroke-width", 2)
        .attr("stroke-linejoin", "round");

    // box and ticks on all four sides
    g.append("rect").attr("width", plotW).attr("height", plotH)
        .attr("fill", "none").attr("stroke", axisColor).attr("stroke-width", 2.6);

    let fmt = d => String(d);
    g.append("g").attr("transform", "translate(0," + plotH + ")")
        .call(d3.axisBottom(x).tickValues(p.xTicks).tickSize(-14).tickPadding(37).tickFormat(fmt))
        .call(styleAxis);
    g.append("g")
        .call(d3.axisLeft(y).tickValues(p.yTicks).tickSize(-14).tickPadding(24).tickFormat(fmt))
        .call(styleAxis);
    g.append("g")
        .call(d3.axisTop(x).tickValues(p.xTicks).tickSize(-14).tickFormat(""))
        .call(styleAxis);
    g.append("g").attr("transform", "translate(" + plotW + ",0)")
        .call(d3.axisRight(y).tickValues(p.yTicks).tickSize(-14).tickFormat(""))
        .call(styleAxis);

    // u1 under the x axis
    let xl = svg.append("text")
        .attr("x", p.left + plotW / 2)
        .attr("y", p.top + plotH + 136)
        .attr("text-anchor", "middle")
        .attr("font-size", 50);
    xl.append("tspan").text("u");
    xl.append("tspan").attr("dy", 20).attr("font-size", 44).text("1");

    // u5 along the y axis
    let yl = svg.append("text")
        .attr("transform", "translate(" + (p.yLabelX + 15) + "," + (p.top + plotH / 2) + ") rotate(-90)")
        .attr("text-anchor", "middle")
        .attr("font-size", 50);
    yl.append("tspan").text("u");
    yl.append("tspan").attr("dy", 20).attr("font-size", 44).text("5");

    if (p.exponent) {
        powerLabel(p.left + 5, p.top - 13);
        powerLabel(p.left + plotW - 142, p.top + plotH + 142);
    }

    // panel letter
    let c = svg.append("text").attr("class", "cap")
        .attr("x", p.capX)
        .attr("y", p.top + plotH + 283)
        .attr("text-anchor", "middle");
    c.append("tspan").text("(");
    c.append("tspan").attr("font-weight", "bold").text(p.cap);
    c.append("tspan").text(")");
}
</script>
</body>
</html>
